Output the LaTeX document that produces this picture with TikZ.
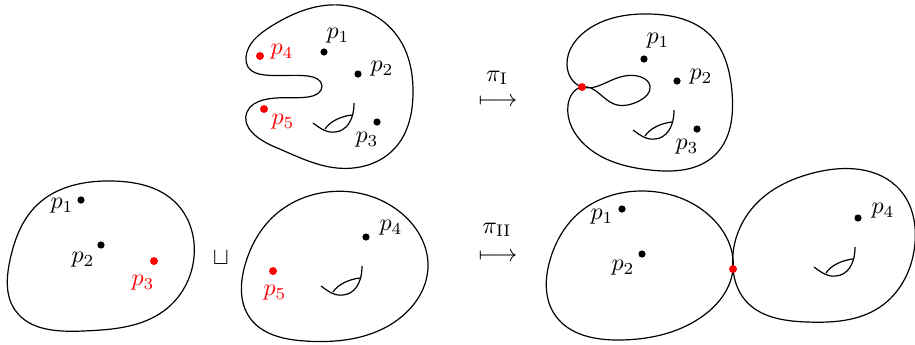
\documentclass[tikz,border=0pt]{standalone}
\usepackage{amsmath}
\usetikzlibrary{hobby}
\begin{document}
\begin{tikzpicture}[x=0.4164pt,y=-0.4164pt,
 blob/.style={draw, line width=0.5pt},
 bdot/.style={circle, fill=black, inner sep=0pt, minimum size=3pt},
 rdot/.style={circle, fill=red, inner sep=0pt, minimum size=3.3pt},
 lab/.style={inner sep=0pt},
 rlab/.style={inner sep=0pt, text=red},
 cuspfig/.pic={\draw[line width=0.5pt] (-41,20) .. controls (-33,26) and (-27,30) .. (-19,29) .. controls (-8,28) and (0,18) .. (0,0);
   \draw[line width=0.5pt] (-29,26) .. controls (-24,18) and (-12,13) .. (-2,12);}
]
\useasboundingbox (0,0) rectangle (915,344);

% ---- shape A (top left)
\draw[blob] plot[closed hobby] coordinates {(246,57) (270,27) (340,5) (400,40) (413,93) (395,148)
 (337,168) (275,147) (247,112) (263,100) (308,97) (322,86)
 (308,76) (265,75) (248,67)};
\pic (cA) at (354,103) {cuspfig};
\node[bdot] (a1) at (324,52) {};
\node[bdot] (a2) at (358,74) {};
\node[bdot] (a3) at (377,122) {};
\node[rdot] (a4) at (260,56) {};
\node[rdot] (a5) at (264,109) {};
\node[lab] (la1) at (338,36) {$p_1$};
\node[lab] (la2) at (382,69) {$p_2$};
\node[lab] (la3) at (367,140) {$p_3$};
\node[rlab] (la4) at (282,52) {$p_4$};
\node[rlab] (la5) at (283,122) {$p_5$};

% ---- shape B (top right)
\draw[blob] plot[closed hobby] coordinates {(582,87) (612,80) (641,77) (650,86) (639,101) (614,104) (582,87)
 (568,105) (585,145) (650,170) (715,155) (732,92) (710,35)
 (650,14) (590,28) (567,65)};
\node[rdot] (bx) at (582,87) {};
\pic (cB) at (674,110) {cuspfig};
\node[bdot] (b1) at (644,59) {};
\node[bdot] (b2) at (677,81) {};
\node[bdot] (b3) at (697,129) {};
\node[lab] (lb1) at (658,41) {$p_1$};
\node[lab] (lb2) at (701,77) {$p_2$};
\node[lab] (lb3) at (687,147) {$p_3$};

% ---- shape C (bottom left)
\draw[blob] plot[closed hobby] coordinates {(113,181) (175,202) (194,257) (165,310) (83,331)
 (15,310) (10,260) (37,205)};
\node[bdot] (c1) at (81,200) {};
\node[bdot] (c2) at (101,245) {};
\node[rdot] (c3) at (154,261) {};
\node[lab] (lc1) at (62,206) {$p_1$};
\node[lab] (lc2) at (83,260) {$p_2$};
\node[rlab] (lc3) at (143,283) {$p_3$};
\node[lab] (sq) at (221,258) {$\sqcup$};

% ---- shape D (bottom middle)
\draw[blob] plot[closed hobby] coordinates {(327,192) (400,212) (428,267) (400,318) (305,341)
 (250,318) (245,265) (275,215)};
\pic (cD) at (362,266) {cuspfig};
\node[bdot] (d4) at (366,237) {};
\node[rdot] (d5) at (273,271) {};
\node[lab] (ld4) at (391,228) {$p_4$};
\node[rlab] (ld5) at (275,293) {$p_5$};

% ---- shapes E and F (bottom right)
\draw[blob] plot[closed hobby] coordinates {(640,191) (712,218) (733,269) (700,318) (620,340)
 (555,315) (550,260) (580,212)};
\draw[blob] plot[closed hobby] coordinates {(733,269) (755,205) (813,173) (900,190) (915,243)
 (880,307) (807,322) (745,300)};
\node[rdot] (ex) at (733,269) {};
\pic (cF) at (855,247) {cuspfig};
\node[bdot] (e1) at (622,209) {};
\node[bdot] (e2) at (642,254) {};
\node[bdot] (f4) at (858,218) {};
\node[lab] (le1) at (602,217) {$p_1$};
\node[lab] (le2) at (623,268) {$p_2$};
\node[lab] (lf4) at (883,211) {$p_4$};

% ---- maps
\node[lab] (m1) at (498,102) {$\longmapsto$};
\node[lab] (pi1) at (497,78) {$\pi_{\mathrm{I}}$};
\node[lab] (m2) at (498,257) {$\longmapsto$};
\node[lab] (pi2) at (497,230) {$\pi_{\mathrm{II}}$};
\end{tikzpicture}
\end{document}
